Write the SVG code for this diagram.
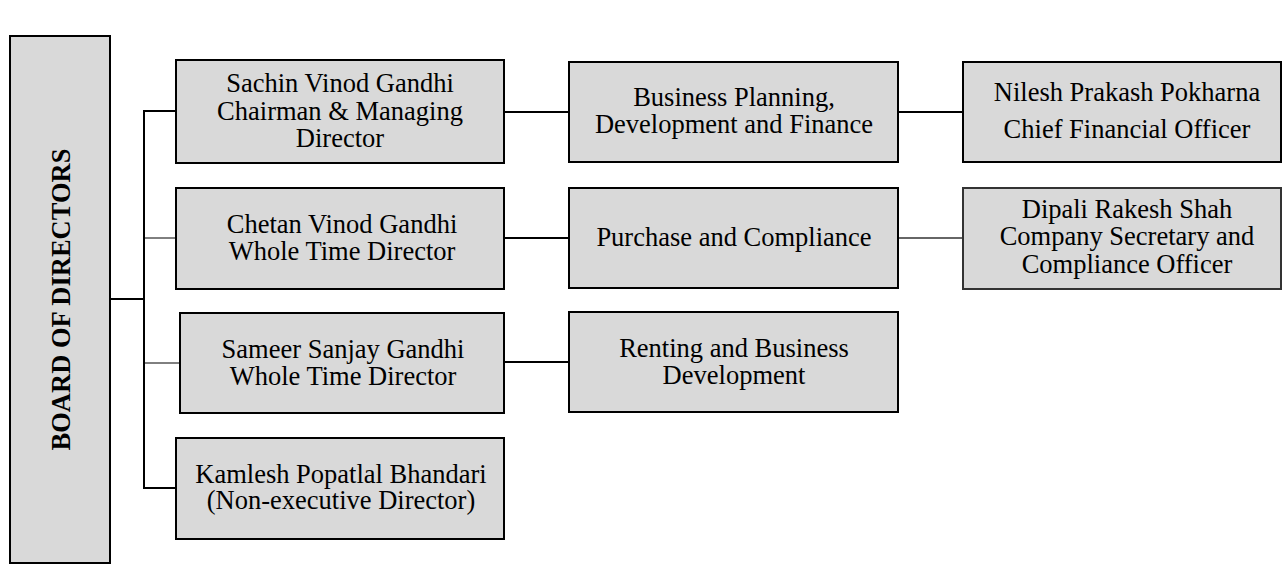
<svg xmlns="http://www.w3.org/2000/svg" width="1282" height="583" viewBox="0 0 1282 583">
<style>
.box{fill:#d9d9d9;stroke:#000;stroke-width:2}
.box2{fill:#d9d9d9;stroke:#333;stroke-width:2}
.t{font-family:"Liberation Serif","Times New Roman",serif;font-size:26.5px;fill:#000;text-anchor:middle}
.b{font-weight:bold}
.c{stroke:#000;stroke-width:2;fill:none}
.ct{stroke:#000;stroke-width:1;fill:none}
.cg{stroke:#333;stroke-width:1.5;fill:none}
</style>
<rect width="1282" height="583" fill="#fff"/>
<g id="connectors">
<line class="c" x1="110" y1="299" x2="145" y2="299"/>
<line class="c" x1="144" y1="110" x2="144" y2="489"/>
<line class="c" x1="143" y1="111" x2="176" y2="111"/>
<line class="ct" x1="144" y1="238" x2="176" y2="238"/>
<line class="ct" x1="144" y1="363" x2="180" y2="363"/>
<line class="c" x1="143" y1="488" x2="176" y2="488"/>
<line class="c" x1="504" y1="112" x2="569" y2="112"/>
<line class="c" x1="504" y1="238" x2="569" y2="238"/>
<line class="c" x1="504" y1="362" x2="569" y2="362"/>
<line class="c" x1="898" y1="112" x2="963" y2="112"/>
<line class="cg" x1="898" y1="238" x2="963" y2="238"/>
</g>
<g id="board">
<rect class="box" x="10" y="36" width="100" height="527"/>
<text class="t b" transform="translate(69.5,299.5) rotate(-90)">BOARD OF DIRECTORS</text>
</g>
<g id="sachin">
<rect class="box" x="176" y="60" width="328" height="103"/>
<text class="t" x="340" y="92">Sachin Vinod Gandhi</text>
<text class="t" x="340" y="120">Chairman &amp; Managing</text>
<text class="t" x="340" y="147">Director</text>
</g>
<g id="chetan">
<rect class="box" x="176" y="188" width="328" height="101"/>
<text class="t" x="342" y="233">Chetan Vinod Gandhi</text>
<text class="t" x="342" y="260">Whole Time Director</text>
</g>
<g id="sameer">
<rect class="box" x="180" y="313" width="324" height="100"/>
<text class="t" x="343" y="358">Sameer Sanjay Gandhi</text>
<text class="t" x="343" y="385">Whole Time Director</text>
</g>
<g id="kamlesh">
<rect class="box" x="176" y="438" width="328" height="101"/>
<text class="t" x="341" y="483">Kamlesh Popatlal Bhandari</text>
<text class="t" x="341" y="509">(Non-executive Director)</text>
</g>
<g id="business">
<rect class="box" x="569" y="62" width="329" height="100"/>
<text class="t" x="734" y="106">Business Planning,</text>
<text class="t" x="734" y="133">Development and Finance</text>
</g>
<g id="purchase">
<rect class="box" x="569" y="188" width="329" height="100"/>
<text class="t" x="734" y="246">Purchase and Compliance</text>
</g>
<g id="renting">
<rect class="box" x="569" y="312" width="329" height="100"/>
<text class="t" x="734" y="357">Renting and Business</text>
<text class="t" x="734" y="384">Development</text>
</g>
<g id="nilesh">
<rect class="box" x="963" y="62" width="318" height="100"/>
<text class="t" x="1127" y="101">Nilesh Prakash Pokharna</text>
<text class="t" x="1127" y="138">Chief Financial Officer</text>
</g>
<g id="dipali">
<rect class="box2" x="963" y="188" width="318" height="101"/>
<text class="t" x="1127" y="218">Dipali Rakesh Shah</text>
<text class="t" x="1127" y="245">Company Secretary and</text>
<text class="t" x="1127" y="273">Compliance Officer</text>
</g>
</svg>
